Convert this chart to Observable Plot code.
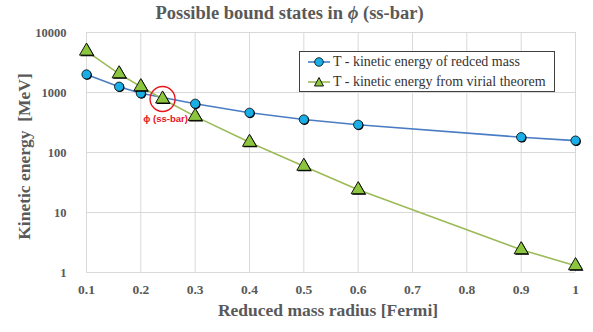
<!DOCTYPE html>
<html>
<head>
<meta charset="utf-8">
<script src="https://cdn.jsdelivr.net/npm/d3@7"></script>
<script src="https://cdn.jsdelivr.net/npm/@observablehq/plot@0.6"></script>
<style>
  html, body { margin: 0; padding: 0; background: #fff; }
  #wrap { position: relative; width: 593px; height: 332px; overflow: hidden; }
  #title { height: 24px; line-height: 26px; text-align: center; font-weight: bold; font-size: 18.5px; font-family: "Liberation Serif", "Tinos", "Times New Roman", serif; color: #595959; padding-right: 14px; }
  #legend { position: absolute; left: 299px; top: 51px; width: 256px; height: 41px; border: 1px solid #404040; background: #fff; font-size: 14px; font-family: "Liberation Serif", "Tinos", "Times New Roman", serif; color: #333; box-sizing: border-box; }
  #legend .row { position: absolute; left: 8px; height: 16px; line-height: 16px; display: flex; align-items: center; white-space: nowrap; }
  #legend svg { margin-right: 3px; }
  #chart svg, #chart svg text { font-family: "Liberation Serif", "Tinos", "Times New Roman", serif; }
  #chart svg .sans text, #chart svg .sans { font-family: "Liberation Sans", Arial, sans-serif; }
  .tick-lbl text { font-weight: bold; }
</style>
</head>
<body>
<div id="wrap">
  <div id="title">Possible bound states in <i>ϕ</i> (ss-bar)</div>
  <div id="chart"></div>
  <div id="legend"></div>
</div>
<script>
const xTicks = [0.1, 0.2, 0.3, 0.4, 0.5, 0.6, 0.7, 0.8, 0.9, 1];
const yTicks = [1, 10, 100, 1000, 10000];

const radiusReduced = [0.1, 0.16, 0.2, 0.3, 0.4, 0.5, 0.6, 0.9, 1.0];
const energyReduced = [2000, 1250, 970, 650, 460, 355, 290, 180, 158];

const radiusVirial = [0.1, 0.16, 0.2, 0.24, 0.3, 0.4, 0.5, 0.6, 0.9, 1.0];
const energyVirial = [4900, 2050, 1250, 780, 400, 148, 59, 24, 2.4, 1.3];

const seriesNames = ["T - kinetic energy of redced mass", "T - kinetic energy from virial theorem"];
const annotation = {x: 0.24, y: 780, label: "ϕ (ss-bar)"};

const blue = radiusReduced.map((x, i) => ({x, y: energyReduced[i]}));
const green = radiusVirial.map((x, i) => ({x, y: energyVirial[i]}));

const serif = "'Liberation Serif', 'Tinos', 'Times New Roman', serif";
const sans = "'Liberation Sans', Arial, sans-serif";
const lineBlue = "#4a7cc4", fillBlue = "#1aaee6";
const lineGreen = "#9bbb59", fillGreen = "#8cc63f";

const chart = Plot.plot({
  width: 593,
  height: 308,
  marginLeft: 86,
  marginRight: 18,
  marginTop: 8,
  marginBottom: 60,
  style: {fontFamily: serif, background: "white"},
  x: {domain: [0.1, 1]},
  y: {type: "log", domain: [1, 10000]},
  marks: [
    Plot.gridX(xTicks, {stroke: "#d9d9d9", strokeOpacity: 1}),
    Plot.gridY(yTicks, {stroke: "#d9d9d9", strokeOpacity: 1}),
    Plot.axisX(xTicks, {tickSize: 0, tickPadding: 12, fontSize: 13.5, fill: "#595959", label: null, className: "tick-lbl", fontFamily: serif, fontWeight: "bold",
      tickFormat: d => d === 1 ? "1" : d.toFixed(1)}),
    Plot.axisY(yTicks, {tickSize: 0, tickPadding: 20, fontSize: 12.5, fill: "#595959", label: null, className: "tick-lbl", fontFamily: serif, fontWeight: "bold",
      tickFormat: d => String(d)}),
    Plot.line(blue, {x: "x", y: "y", stroke: lineBlue, strokeWidth: 1.6}),
    Plot.line(green, {x: "x", y: "y", stroke: lineGreen, strokeWidth: 1.6}),
    Plot.dot(blue, {x: "x", y: "y", r: 4.6, fill: "#000", dx: 0.8, dy: 0.8}),
    Plot.dot(blue, {x: "x", y: "y", r: 4.6, fill: fillBlue, stroke: "#000", strokeWidth: 0.8}),
    Plot.dot(green, {x: "x", y: "y", r: 5.2, symbol: "triangle", fill: "#000", dx: 1, dy: 1}),
    Plot.dot(green, {x: "x", y: "y", r: 5.2, symbol: "triangle", fill: fillGreen, stroke: "#000", strokeWidth: 0.9}),
    Plot.dot([annotation], {x: "x", y: "y", r: 12.5, fill: "none", stroke: "#e8141c", strokeWidth: 1.4}),
    Plot.text([annotation], {x: "x", y: "y", text: "label", dx: 3, dy: 20, fill: "#e8141c", fontSize: 9.5, fontWeight: "bold", fontFamily: sans, className: "sans"}),
    Plot.text(["Kinetic energy  [MeV]"], {text: d => d, frameAnchor: "left", textAnchor: "middle", dx: -62, dy: 4, rotate: -90, fontSize: 17.5, fontWeight: "bold", fill: "#595959", fontFamily: serif}),
    Plot.text(["Reduced mass radius [Fermi]"], {text: d => d, frameAnchor: "bottom", dx: -3, dy: 43, fontSize: 17.5, fontWeight: "bold", fill: "#595959", fontFamily: serif})
  ]
});
document.getElementById("chart").appendChild(chart);

// legend
const legend = document.getElementById("legend");
function sym(kind) {
  const line = kind === "circle" ? lineBlue : lineGreen;
  const marker = kind === "circle"
    ? `<circle cx="11" cy="8" r="4.3" fill="${fillBlue}" stroke="#000" stroke-width="0.8"/>`
    : `<path d="M11,3.5 L15.5,12 L6.5,12 Z" fill="${fillGreen}" stroke="#000" stroke-width="0.9"/>`;
  return `<svg width="22" height="16"><line x1="0" x2="22" y1="8" y2="8" stroke="${line}" stroke-width="1.6"/>${marker}</svg>`;
}
legend.innerHTML =
  `<div class="row" style="top:2px">${sym("circle")}<span>${seriesNames[0]}</span></div>` +
  `<div class="row" style="top:22px">${sym("triangle")}<span>${seriesNames[1]}</span></div>`;
</script>
</body>
</html>
